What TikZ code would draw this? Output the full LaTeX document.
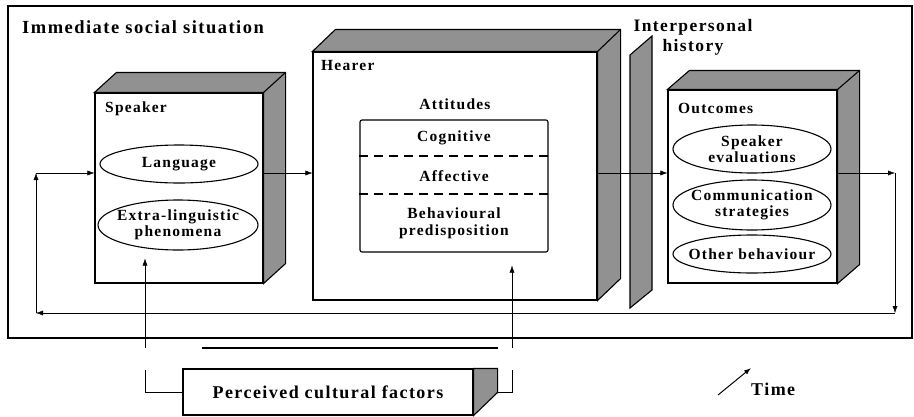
\documentclass[tikz,border=0pt]{standalone}
\usepackage{fontspec}
\setmainfont{Liberation Serif}[LetterSpace=8]
\usetikzlibrary{arrows.meta,positioning,calc,shapes.geometric}

\definecolor{hatch}{RGB}{145,145,145}

% top and side faces of a solid box
\newcommand{\boxfaces}[3]{%
  \draw[faces] (#1.north west) -- ($(#1.north west)+(#2,-#3)$) -- ($(#1.north east)+(#2,-#3)$)
    -- ($(#1.south east)+(#2,-#3)$) -- (#1.south east) -- (#1.north east) -- cycle;
  \draw[line width=1.1pt] (#1.north east) -- ($(#1.north east)+(#2,-#3)$);
}

\begin{document}
\begin{tikzpicture}[
    x=1pt, y=-1pt,
    every node/.style={font=\bfseries\fontsize{15.5}{17}\selectfont},
    front/.style={draw, line width=1.1pt, fill=white, inner sep=0pt},
    faces/.style={draw, line width=1.1pt, fill=hatch},
    oval/.style={ellipse, draw, line width=1.1pt, align=center, inner xsep=-20pt, inner ysep=-8pt, font=\bfseries\fontsize{15.5}{16.5}\selectfont},
    label/.style={inner sep=0pt, anchor=west},
    arr/.style={-{Latex[length=7pt,width=5pt]}},
]
\useasboundingbox (0,0) rectangle (914,416);

% outer frame
\node[draw, line width=1.4pt, minimum width=904pt, minimum height=332pt, inner sep=0pt] (social) at (460,172) {};
\node[label, font=\bfseries\fontsize{18.5}{20}\selectfont] (sociallbl) at (22,27) {Immediate social situation};

% speaker
\node[front, minimum width=168pt, minimum height=190pt] (spk) at (179,188) {};
\boxfaces{spk}{22}{20}
\node[label] (spklbl) at (105,109) {Speaker};
\node[oval, minimum width=158pt, minimum height=38pt] (lang) at (179,164) {Language};
\node[oval, minimum width=160pt, minimum height=50pt] (extra) at (178,225) {Extra-linguistic\\phenomena};

% hearer
\node[front, minimum width=284pt, minimum height=248pt] (hea) at (455,176) {};
\boxfaces{hea}{23}{22}
\node[label] (healbl) at (321,65) {Hearer};
\node[inner sep=0pt] (attlbl) at (455,104) {Attitudes};
\node[draw, line width=1.1pt, rounded corners=2pt, minimum width=188pt, minimum height=132pt, inner sep=0pt] (att) at (454,186) {};
\draw[dashed, dash pattern=on 9pt off 6pt, line width=1.3pt] (att.west |- 0,156) -- (att.east |- 0,156);
\draw[dashed, dash pattern=on 9pt off 6pt, line width=1.3pt] (att.west |- 0,194) -- (att.east |- 0,194);
\node (cog) at (454,138) {Cognitive};
\node (aff) at (454,176) {Affective};
\node[align=center] (beh) at (454,223) {Behavioural\\predisposition};

% interpersonal history
\draw[faces] (630,55) -- (652,36) -- (652,290) -- (630,308) -- cycle;
\node[align=center, inner sep=0pt, font=\bfseries\fontsize{17.5}{20}\selectfont] (histlbl) at (693,37) {Interpersonal\\history};

% outcomes
\node[front, minimum width=169pt, minimum height=193pt] (out) at (752.5,186.5) {};
\boxfaces{out}{22}{19}
\node[label] (outlbl) at (678,108) {Outcomes};
\node[oval, minimum width=158pt, minimum height=48pt] (spe) at (752,149) {Speaker\\evaluations};
\node[oval, minimum width=158pt, minimum height=50pt] (com) at (752,205) {Communication\\strategies};
\node[oval, minimum width=158pt, minimum height=38pt] (oth) at (752,254) {Other behaviour};

% perceived cultural factors
\node[front, minimum width=290pt, minimum height=46pt, font=\bfseries\fontsize{18}{19}\selectfont] (cf) at (328,392) {Perceived cultural factors};
\draw[faces] (cf.north east) -- ++(24,0) -- ++(0,24) -- (cf.south east) -- cycle;
\draw[line width=2.2pt] (202,348) -- (498,348);

% main flow
\coordinate (rowL) at (36,173);
\coordinate (rowR) at (895,173);
\coordinate (botL) at (36,313);
\coordinate (botR) at (895,313);
\draw[arr] (spk.east |- rowL) -- (hea.west |- rowL);
\draw[arr] (hea.east |- rowL) -- (out.west |- rowL);
\draw[arr] (out.east |- rowR) -- (rowR);
\draw[arr] (rowR) -- (botR);
\draw[arr] (botR) -- (botL);
\draw[arr] (botL) -- (rowL);
\draw[arr] (rowL) -- (spk.west |- rowL);

% cultural factors feeding in
\coordinate (cfL) at (145,348);
\coordinate (cfR) at (512,348);
\draw[arr, shorten >=8pt] (cfL) -- (cfL |- extra.south);
\draw[arr, shorten >=13pt] (cfR) -- (cfR |- att.south);
\draw[line width=1pt] (145,370) |- (cf.west);
\draw[line width=1pt] (512,370) |- ($(cf.east)+(24,0)$);

% time
\coordinate (t0) at (718,395);
\node[label, font=\bfseries\fontsize{18}{19}\selectfont] (time) at (751,389) {Time};
\draw[arr, line width=1pt] (t0) -- (time.west |- 0,368);
\end{tikzpicture}
\end{document}
